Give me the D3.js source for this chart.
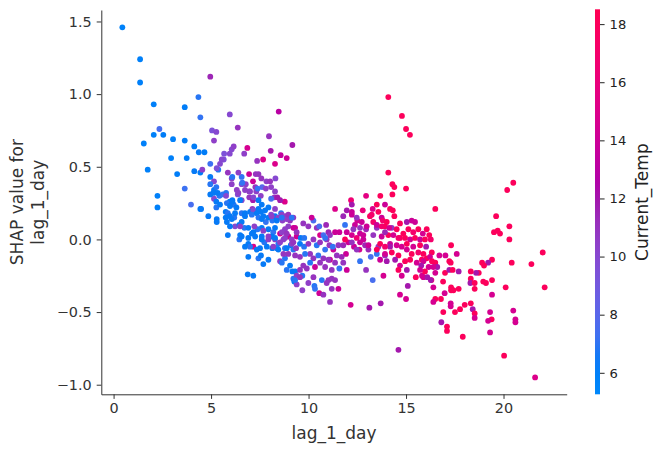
<!DOCTYPE html>
<html>
<head>
<meta charset="utf-8">
<script src="https://cdn.jsdelivr.net/npm/d3@7"></script>
<style>
    body { margin: 0; background: #fff; }
    svg { display: block; font-family: "DejaVu Sans", sans-serif; }
</style>
</head>
<body>
<svg id="chart" width="662" height="453"></svg>
<script>
// each point: [lag_1_day, SHAP value for lag_1_day, Current_Temp]
var leftTailPoints = [
    [0.45,1.46,5.8],[1.36,1.24,6],[1.36,1.08,6],[2.06,0.93,6],[4.35,0.98,6.8],[3.65,0.91,6.2],[4.45,0.84,7],[4.96,1.12,11.5],[5.96,0.86,10],[6.37,0.77,11],
    [2.35,0.76,7.5],[2.06,0.72,6],[2.55,0.72,6.3],[1.55,0.66,6],[3.05,0.69,6],[3.65,0.68,6.2],[5.05,0.75,9.5],[5.27,0.74,10],[5.15,0.68,10.5],[4.14,0.64,6.3],
    [4.37,0.60,6.5],[4.66,0.60,6.3],[2.95,0.56,6],[3.75,0.56,6.2],[1.75,0.48,6],[3.26,0.45,6.2],[4.14,0.47,6.5],[4.45,0.46,6.3],[4.96,0.52,7.2],[4.55,0.48,10.5],
    [5.37,0.48,6.8],[4.96,0.43,6.5],[5.15,0.40,10],[4.96,0.38,6.8],[3.65,0.35,7.2],[2.25,0.30,6],[2.25,0.22,6],[3.97,0.24,7.5],[4.45,0.21,6.3],
    [6.06,0.62,10],[6.16,0.64,10.5],[5.96,0.59,10],[5.67,0.59,9.5],[5.65,0.55,9.5],[5.55,0.55,10],[5.46,0.52,10],[5.86,0.46,11],[6.06,0.42,10.5],
    [6.86,0.63,14.5],[6.95,0.45,14],[7.15,0.40,14],[6.57,0.43,7],[6.57,0.38,10],[6.78,0.38,10.5],[5.15,0.34,6.5],[5.27,0.36,6.8],[5.15,0.28,10],[4.96,0.31,6.5],
    [5.43,0.30,6.8],[5.6,0.31,7],[5.77,0.32,6.8],[6.37,0.31,9.5],[6.96,0.33,11],[6.96,0.29,11],[7.15,0.27,12],[6.57,0.27,10],[5.27,0.26,6.5],[5.27,0.22,6.8],
    [5.96,0.26,6.5],[6.16,0.24,6.8],[6.3,0.22,6.5],[5.77,0.30,10],[7.12,0.21,11]
];
var blueClusterPoints = [
    [8.47,0.88,13],[7.97,0.71,11],[9.17,0.65,12],[8.06,0.61,12],[8.57,0.58,13.5],[8.88,0.56,14],[7.67,0.55,15],[7.36,0.54,11],[8.28,0.52,15],[7.29,0.45,11],
    [7.43,0.45,11],[7.58,0.42,11],[7.84,0.40,10.5],[8.03,0.40,11],[8.3,0.42,10],[7.27,0.36,11],[7.62,0.36,8],[7.0,0.33,10.5],[7.32,0.33,10.5],[7.55,0.30,10.5],
    [8.25,0.29,11],[8.4,0.29,12],[8.78,0.26,15],[8.54,0.27,12],[8.08,0.28,7.5],[7.17,0.29,10],[6.7,0.59,10.5],[6.09,0.43,6.8],[6.4,0.46,10.5],[6.6,0.39,7],
    [6.06,0.38,10.5],[6.32,0.34,10.5],[6.4,0.32,10.5],[6.74,0.34,10.5],[7.39,0.35,7],[7.81,0.35,10.5],[8.08,0.36,10.5],[8.28,0.33,10.5],[5.12,0.32,6.5],[5.34,0.32,6.5],
    [5.29,0.49,9.5],[4.49,0.21,6.5],[4.86,0.16,6.5],[5.46,0.24,6.5],[5.81,0.25,6.8],[5.97,0.23,6.5],[6.09,0.26,6.5],[5.75,0.19,6.5],[5.86,0.18,6.8],[5.97,0.16,6.5],
    [5.75,0.15,6.5],[6.19,0.15,6.8],[5.29,0.14,6.5],[5.29,0.12,6.5],[6.23,0.18,6.5],[6.57,0.18,6.8],[6.74,0.16,6.5],[6.23,0.09,10],[6.45,0.10,6.5],[6.71,0.08,6.8],
    [7.0,0.19,6.5],[7.17,0.20,10],[7.09,0.17,6.8],[7.34,0.18,6.5],[7.56,0.19,6.5],[7.43,0.15,6.8],[7.68,0.16,6.5],[7.81,0.12,7],[7.94,0.15,6.5],[8.08,0.17,10],
    [8.14,0.13,6.8],[8.28,0.16,6.5],[8.45,0.15,10.5],[8.59,0.18,6.8],[8.66,0.13,10.5],[8.83,0.16,10.5],[9.05,0.13,11],[9.22,0.15,11],[8.96,0.09,10.5],[9.22,0.08,14],
    [8.79,0.07,10.5],[8.54,0.04,14],[8.19,0.05,7],[7.94,0.07,6.5],[7.6,0.08,6.5],[7.39,0.07,6.8],[7.22,0.09,10.5],[7.09,0.04,6.5],[7.26,0.02,6.5],[7.17,-0.05,15],
    [6.91,-0.03,6.5],[7.0,-0.05,6.8],[7.6,0.02,6.5],[7.73,-0.02,6.8],[7.94,0.0,10.5],[8.11,0.02,6.5],[8.28,0.0,10.5],[8.45,-0.03,6.8],[8.71,0.0,10.5],[8.96,0.02,14],
    [9.14,0.0,10.5],[8.79,-0.06,6.8],[9.09,-0.04,6.5],[9.22,-0.07,6.8],[8.14,-0.06,6.5],[8.37,-0.06,6.8],[7.34,-0.07,6.5],[6.91,-0.12,6.5],[7.43,-0.13,6.8],[7.56,-0.11,6.5],
    [7.94,-0.14,6.5],[8.54,-0.15,10.5],[8.79,-0.13,6.8],[9.05,-0.18,6.5],[8.88,-0.21,6.8],[9.17,-0.22,6.5],[9.22,-0.27,6.8],[6.88,-0.24,6.5],[7.17,-0.25,6.5],[6.49,0.03,6.5],
    [6.45,0.0,6.8],[5.86,0.03,6.5],[7.68,-0.17,6.5],[9.31,-0.22,6.5],[9.39,-0.25,10.5],[9.68,-0.25,6.8],[9.27,-0.29,6.5],[9.39,-0.31,10.5],[9.99,-0.30,10.5],[9.68,-0.35,10.5],
    [10.3,-0.32,6.8]
];
var blueCoreExtraPoints = [
    [6.09,0.27,6.5],[6.49,0.27,6.5],[7.43,0.27,6.5],[7.6,0.24,6.5],[7.43,0.21,6.5],[7.77,0.20,6.5],[7.94,0.22,6.5],[8.28,0.21,10.5],[6.06,0.14,6.5],[5.81,0.12,6.5],
    [6.74,0.18,6.5],[6.57,0.12,6.5],[7.6,0.14,6.5],[8.11,0.16,10.5],[8.37,0.13,6.5],[8.63,0.17,10.5],[8.88,0.14,10.5],[9.31,0.08,14],[5.97,0.09,6.5],[6.49,0.09,10.5],
    [6.91,0.08,6.5],[7.17,0.05,6.5],[7.68,0.06,10.5],[8.28,0.08,6.5],[8.63,0.05,10.5],[9.39,0.02,14],[6.57,0.02,6.5],[6.91,0.01,6.5],[7.6,0.0,6.5],[7.94,0.02,10.5],
    [8.28,0.01,6.5],[8.54,-0.02,10.5],[8.79,0.01,10.5],[9.14,-0.03,10.5],[6.74,-0.05,6.5],[7.51,-0.06,6.5],[7.86,-0.05,6.5],[8.19,-0.05,10.5],[8.45,-0.07,6.5],[8.88,-0.06,6.5]
];
var midClusterPoints = [
    [12.95,0.30,15.5],[12.18,0.27,16.5],[12.22,0.24,12],[11.36,0.21,15],[11.96,0.20,12],[12.78,0.20,16],[11.78,0.16,11.5],[12.22,0.17,14],[12.5,0.13,14.5],[12.73,0.12,14],
    [10.25,0.13,7.5],[10.16,0.15,14],[9.73,0.11,11],[9.99,0.09,11],[10.42,0.08,11],[10.55,0.09,7.5],[10.9,0.10,11.5],[11.02,0.05,11.5],[11.36,0.05,14],[11.58,0.05,14],
    [10.59,0.03,15],[10.76,0.03,7.5],[11.96,0.05,14],[12.22,0.03,14.5],[12.47,0.01,16.5],[12.64,0.04,14],[12.95,0.07,11.5],[12.81,0.0,14],[9.39,0.05,11],[8.88,0.04,11],
    [8.63,0.15,6.8],[8.96,0.17,11],[9.14,0.15,6.8],[9.6,0.01,6.5],[9.78,0.01,6.8],[9.56,-0.03,6.5],[9.77,-0.05,6.8],[9.36,-0.06,11],[9.22,-0.02,11],[9.99,-0.03,11],
    [10.25,0.0,11],[10.42,-0.04,6.8],[10.59,-0.02,11],[10.93,0.0,11],[10.85,-0.07,7],[11.07,-0.04,11],[11.27,-0.07,14],[11.53,-0.04,11],[11.78,-0.04,11.5],[12.04,-0.02,14],
    [12.33,-0.05,14],[12.61,-0.07,14.5],[12.9,-0.04,11.5],[13.07,-0.07,11.5],[11.92,-0.10,14],[11.7,-0.12,11.5],[11.45,-0.11,11],[11.1,-0.14,14],[10.76,-0.13,11],[10.5,-0.11,7],
    [10.25,-0.13,11],[10.08,-0.10,11],[9.82,-0.10,6.8],[9.56,-0.12,11],[9.31,-0.11,11],[8.96,-0.10,11],[8.71,-0.10,11],[8.63,-0.16,6.8],[9.56,-0.21,11],[9.73,-0.18,11],
    [9.91,-0.20,11],[10.08,-0.16,6.8],[10.33,-0.19,14],[10.59,-0.16,11],[10.85,-0.19,11],[11.02,-0.14,11],[11.19,-0.21,11],[11.36,-0.16,11],[11.58,-0.20,7],[11.78,-0.16,11],
    [11.96,-0.21,14],[12.64,-0.15,7],[12.95,-0.21,11],[9.31,-0.28,6.8],[9.56,-0.26,11],[10.25,-0.26,11],[10.68,-0.28,6.8],[11.02,-0.28,11],[11.19,-0.27,11],[11.36,-0.28,11],
    [10.93,-0.30,11],[11.53,-0.34,14],[10.33,-0.34,7],[10.55,-0.37,14],[10.76,-0.38,11],[11.19,-0.34,11],[11.1,-0.43,11],[12.16,-0.45,14.5],[13.12,-0.47,12]
];
var warmCoreExtraPoints = [
    [12.22,0.19,14],[13.92,0.24,14],[12.47,0.15,11],[13.15,0.16,18],[13.75,0.15,14],[12.38,0.10,14],[12.64,0.08,11],[12.98,0.09,14],[13.5,0.08,11],[13.92,0.09,18],
    [14.27,0.08,11],[11.87,0.10,7],[12.3,0.07,11],[12.81,0.03,14],[13.32,0.03,11],[13.75,0.02,14],[14.09,0.03,18],[11.1,0.03,11],[10.85,0.01,7],[11.24,-0.05,7],
    [11.87,0.0,18],[12.22,-0.02,11],[12.64,-0.02,14],[13.07,-0.04,14],[13.58,-0.05,11],[14.18,-0.03,14],[14.69,0.01,18],[12.47,-0.07,11],[13.5,-0.10,7],[13.92,-0.11,11]
];
var warmClusterPoints = [
    [14.09,0.46,18],[14.3,0.38,18],[14.4,0.36,18],[15.0,0.35,18],[14.3,0.31,18],[13.68,0.30,18],[13.5,0.24,18],[14.18,0.21,18],[14.32,0.20,18],[14.4,0.16,18],
    [13.58,0.19,18],[13.29,0.21,15],[13.81,0.13,17],[13.24,0.17,17],[13.32,0.12,17],[13.5,0.10,14],[13.75,0.09,17],[14.01,0.12,18],[14.14,0.08,14.5],[13.92,0.05,11.5],
    [14.69,0.11,18],[15.04,0.12,12],[15.29,0.13,14],[15.46,0.12,14],[14.52,0.07,18],[14.86,0.04,18],[15.12,0.07,18],[15.37,0.05,17],[15.63,0.07,18],[15.86,0.04,14.5],
    [16.06,0.07,18],[14.35,0.03,14.5],[14.61,0.01,17],[14.95,0.01,18],[15.21,0.0,14.5],[15.46,0.01,18],[15.72,0.0,14],[15.97,0.0,18],[16.27,0.0,17],[14.52,-0.04,14.5],
    [14.18,-0.05,12],[13.92,-0.05,17],[13.67,-0.03,18],[14.78,-0.05,14.5],[15.04,-0.03,18],[15.37,-0.05,14.5],[15.72,-0.04,18],[16.03,-0.05,12],[13.5,-0.07,18],[13.92,-0.10,14.5],
    [14.27,-0.09,18],[14.61,-0.11,18],[15.04,-0.07,14.5],[15.29,-0.10,18],[15.63,-0.09,17],[15.89,-0.10,18],[13.67,-0.14,14],[14.01,-0.15,12],[14.44,-0.14,12],[14.69,-0.18,14.5],
    [14.95,-0.15,18],[15.21,-0.14,18],[15.55,-0.16,14.5],[15.81,-0.14,18],[16.06,-0.13,18],[14.61,-0.21,18],[15.04,-0.21,12],[15.5,-0.26,18],[15.89,-0.26,14.5],[13.84,-0.25,14.5],
    [14.78,-0.25,14.5],[15.09,-0.32,12],[14.69,-0.38,14.5],[15.0,-0.41,14.5],[13.19,-0.12,7.5],[13.29,-0.28,7.5],[13.7,-0.44,12],[14.61,-0.76,12]
];
var rightTailPoints = [
    [14.09,0.98,18],[14.79,0.85,18],[15.0,0.76,18],[15.2,0.72,18],[16.5,0.21,18],[19.62,0.16,18],[20.19,0.34,18],[20.5,0.39,18],[19.51,0.05,18],[19.7,0.06,18],
    [19.82,0.04,18],[20.3,0.09,18],[20.3,0.0,18],[22.01,-0.09,18],[21.43,-0.17,18],[20.42,-0.16,18],[22.11,-0.33,18],[20.11,-0.33,18],[20.5,-0.49,14.5],[20.61,-0.55,14.5],
    [20.61,-0.57,14.5],[20.03,-0.80,18],[21.62,-0.95,15],[19.41,-0.14,18],[19.21,-0.16,12],[19.0,-0.18,18],[18.9,-0.16,18],[19.41,-0.28,18],[19.1,-0.30,18],[18.96,-0.29,18],
    [19.41,-0.38,14.5],[19.31,-0.50,14.5],[19.39,-0.55,18],[19.21,-0.56,14.5],[19.31,-0.64,14.5],[18.73,-0.23,18],[18.59,-0.23,12],[18.32,-0.22,18],[18.32,-0.27,18],[18.3,-0.30,12],
    [18.52,-0.30,18],[18.52,-0.34,18],[18.32,-0.44,18],[18.42,-0.48,12],[18.52,-0.51,18],[18.52,-0.54,14.5],[18.01,-0.45,18],[17.77,-0.48,18],[17.51,-0.50,18],[17.91,-0.67,18],
    [16.91,-0.50,18],[16.81,-0.57,12],[17.1,-0.60,18],[17.1,-0.63,18],[17.31,-0.33,18],[17.31,-0.35,18],[17.43,-0.35,18],[17.7,-0.34,18],[17.29,-0.44,14.5],[17.29,-0.46,14.5],
    [16.9,-0.29,18],[16.79,-0.41,18],[16.5,-0.41,18],[16.4,-0.43,14.5],[16.98,-0.37,14.5],[17.0,-0.23,18],[16.4,-0.33,14.5],[16.3,-0.28,18],[17.22,-0.15,18],[17.29,-0.16,18],
    [17.22,-0.21,12],[17.7,-0.22,12],[17.39,-0.21,18],[16.71,-0.11,14.5],[17.02,-0.11,14.5],[17.6,-0.10,14.5],[17.31,-0.04,18],[16.5,-0.16,18],[16.6,-0.19,12],[16.4,-0.19,14.5],
    [16.5,-0.23,14.5],[16.09,-0.26,12],[16.27,-0.28,12],[15.82,-0.25,14.5],[16.19,0.03,18],[16.32,-0.09,18],[16.23,-0.12,14.5],[15.89,-0.15,14.5],[15.78,-0.18,12],[16.16,-0.19,14.5],
    [15.97,-0.22,18],[15.72,-0.21,14.5],[16.33,-0.15,18]
];

var xTicks = [0, 5, 10, 15, 20];
var yTicks = [-1, -0.5, 0, 0.5, 1, 1.5];
var tempTicks = [6, 8, 10, 12, 14, 16, 18];

var axisColor = "#333333";
var plot = {left: 101.3, right: 566.7, top: 10, bottom: 394.3};
var bar = {left: 595, width: 5};

var svg = d3.select("#chart");

var x = d3.scaleLinear().domain([-0.63, 23.24]).range([plot.left, plot.right]);
var y = d3.scaleLinear().domain([-1.066, 1.579]).range([plot.bottom, plot.top]);
var tempDomain = [5.26, 18.51];
var tempScale = d3.scaleLinear().domain(tempDomain).range([0, 1]).clamp(true);
var tempY = d3.scaleLinear().domain(tempDomain).range([plot.bottom, 9.3]);

// shap red_blue: lch blend blue -> red, lightness dips in the middle
function redBlue(t){
    var l = t < 0.5 ? 54 - 28 * t : 40 + 28 * (t - 0.5);
    var c = 70 + 20 * t;
    var h = 266.93 + t * 113.39;
    return d3.hcl(h, c, l).formatRgb();
}

// points
var allPoints = [].concat(leftTailPoints, blueClusterPoints, blueCoreExtraPoints, midClusterPoints,
    warmCoreExtraPoints, warmClusterPoints, rightTailPoints);
svg.append("g")
    .selectAll("circle")
    .data(allPoints)
    .join("circle")
    .attr("cx", function(d){ return x(d[0]); })
    .attr("cy", function(d){ return y(d[1]); })
    .attr("r", 2.9)
    .attr("fill", function(d){ return redBlue(tempScale(d[2])); });

// axes
var xAxis = svg.append("g")
    .attr("transform", "translate(0," + plot.bottom + ")")
    .call(d3.axisBottom(x).tickValues(xTicks).tickSize(4.6).tickSizeOuter(0).tickPadding(3.5).tickFormat(d3.format("d")));
var yAxis = svg.append("g")
    .attr("transform", "translate(" + plot.left + ",0)")
    .call(d3.axisLeft(y).tickValues(yTicks).tickSize(4.6).tickSizeOuter(0).tickPadding(5).tickFormat(d3.format(".1f")));

[xAxis, yAxis].forEach(function(g){
    g.select(".domain").attr("stroke", axisColor).attr("stroke-width", 1);
    g.selectAll(".tick line").attr("stroke", axisColor).attr("stroke-width", 1);
    g.selectAll(".tick text").attr("fill", axisColor).style("font-size", "14.4px").style("font-family", "DejaVu Sans");
});

svg.append("text")
    .attr("x", (plot.left + plot.right) / 2)
    .attr("y", 439)
    .attr("text-anchor", "middle")
    .attr("fill", axisColor)
    .style("font-size", "17px")
    .text("lag_1_day");

var yLabel = svg.append("g")
    .attr("transform", "translate(0," + (plot.top + plot.bottom) / 2 + ") rotate(-90)");
yLabel.append("text").attr("x", 0).attr("y", 17).attr("dy", "0.35em")
    .attr("text-anchor", "middle").attr("fill", axisColor).style("font-size", "17px")
    .text("SHAP value for");
yLabel.append("text").attr("x", 0).attr("y", 38).attr("dy", "0.35em")
    .attr("text-anchor", "middle").attr("fill", axisColor).style("font-size", "17px")
    .text("lag_1_day");

// colorbar
var grad = svg.append("defs").append("linearGradient")
    .attr("id", "tempGrad").attr("x1", 0).attr("y1", 1).attr("x2", 0).attr("y2", 0);
grad.selectAll("stop")
    .data(d3.range(0, 1.0001, 0.05))
    .join("stop")
    .attr("offset", function(d){ return d; })
    .attr("stop-color", function(d){ return redBlue(d); });

svg.append("rect")
    .attr("x", bar.left)
    .attr("y", tempY(tempDomain[1]))
    .attr("width", bar.width)
    .attr("height", tempY(tempDomain[0]) - tempY(tempDomain[1]))
    .attr("fill", "url(#tempGrad)");

var cAxis = svg.append("g")
    .attr("transform", "translate(" + (bar.left + bar.width) + ",0)")
    .call(d3.axisRight(tempY).tickValues(tempTicks).tickSize(4.6).tickSizeOuter(0).tickPadding(5).tickFormat(d3.format("d")));
cAxis.select(".domain").remove();
cAxis.selectAll(".tick line").attr("stroke", "#222");
cAxis.selectAll(".tick text").attr("fill", "#222").style("font-size", "13.1px").style("font-family", "DejaVu Sans");

svg.append("text")
    .attr("transform", "translate(642.5," + (plot.top + plot.bottom) / 2 + ") rotate(-90)")
    .attr("text-anchor", "middle")
    .attr("dy", "0.35em")
    .attr("fill", "#222")
    .style("font-size", "17px")
    .text("Current_Temp");
</script>
</body>
</html>
